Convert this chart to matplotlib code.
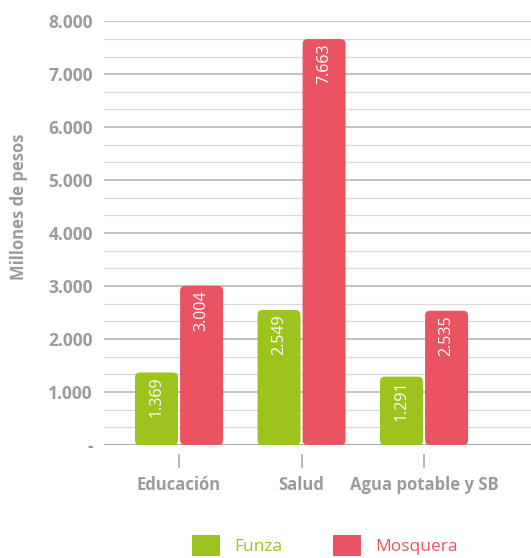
import numpy as np
import matplotlib
matplotlib.use("Agg")
import matplotlib.pyplot as plt
from matplotlib.patches import FancyBboxPatch, Patch
import matplotlib.transforms as mtransforms

# gasto por sector, millones de pesos
sectores = ["Educación", "Salud", "Agua potable y SB"]
funza = [1369, 2549, 1291]
mosquera = [3004, 7663, 2535]
etiquetas_y = ["-", "1.000", "2.000", "3.000", "4.000", "5.000", "6.000", "7.000", "8.000"]

verde = "#9dc31f"
rojo = "#ea5462"
gris = "#9b9b9b"

plt.rcParams['font.family'] = ['Open Sans', 'DejaVu Sans']

fig = plt.figure(figsize=(5.31, 5.58), dpi=100)
ax = fig.add_axes([0.196, 0.2025, 0.804, 0.7595])

x = np.arange(len(sectores))
ancho = 0.351
desp = 0.184

ax.set_xlim(-0.612, 2.873)
ax.set_ylim(0, 8000)

# lineas de guia: mayores cada 1000, menores cada tercio
for v in np.arange(0, 8001, 1000 / 3):
    mayor = abs(v / 1000 - round(v / 1000)) < 1e-6
    ax.axhline(v, color="#bcbcbc" if mayor else "#dadada",
               lw=1.3 if mayor else 0.9, zorder=0)
ax.axhline(0, color="#a8a8a8", lw=1.4, zorder=1)

# relacion de unidades por pixel para redondear esquinas
px_x = (2.873 + 0.612) / (0.804 * 531)
px_y = 8000 / (0.7595 * 558)

for serie, color, signo in [(funza, verde, -1), (mosquera, rojo, 1)]:
    barras = ax.bar(x + signo * desp, serie, width=ancho, color=color, zorder=2)
    for b, val in zip(barras, serie):
        b.set_visible(False)
        r = 5 * px_x
        caja = FancyBboxPatch((b.get_x(), b.get_y()), b.get_width(), b.get_height(),
                              boxstyle=f"round,pad=0,rounding_size={r}",
                              mutation_aspect=px_y / px_x,
                              fc=color, ec="none", zorder=2)
        ax.add_patch(caja)
        ax.annotate(f"{val/1000:.3f}", (b.get_x() + b.get_width() / 2, val),
                    xytext=(0, -3), textcoords="offset points",
                    rotation=90, ha="center", va="top", color="white",
                    fontsize=11.5, zorder=3)

ax.set_yticks(np.arange(0, 8001, 1000))
ax.set_yticklabels(etiquetas_y)
ax.set_xticks(x)
ax.set_xticklabels(sectores)
ax.tick_params(axis="both", length=0, colors=gris)
ax.tick_params(axis="x", pad=22, labelsize=12)
ax.tick_params(axis="y", pad=8, labelsize=12.5)
for t in ax.get_xticklabels() + ax.get_yticklabels():
    t.set_fontweight("bold")

# marcas cortas separadas del eje
trans = mtransforms.blended_transform_factory(ax.transData, ax.transAxes)
for xi in x:
    ax.plot([xi, xi], [-0.024, -0.052], color="#a8a8a8", lw=1.2,
            transform=trans, clip_on=False)

for s in ax.spines.values():
    s.set_visible(False)

fig.text(0.035, 0.63, "Millones de pesos", rotation=90, ha="center", va="center",
         color=gris, fontsize=12, fontweight="bold")

manejadores = [Patch(fc=verde, ec="none"), Patch(fc=rojo, ec="none")]
fig.legend(manejadores, ["Funza", "Mosquera"], loc="lower left",
           bbox_to_anchor=(190 / 531, 0), ncol=2, frameon=False,
           fontsize=12.5, labelcolor=[verde, rojo], handlelength=1.6,
           handleheight=1.5, handletextpad=0.86, columnspacing=2.9,
           borderpad=0, borderaxespad=0.1)

fig.savefig("out.png", dpi=100)
